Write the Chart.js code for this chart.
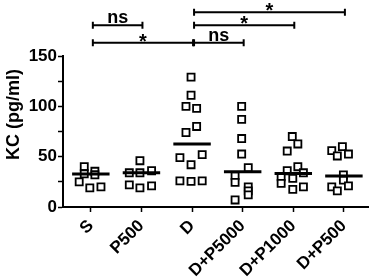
<!DOCTYPE html>
<html>
<head>
<meta charset="utf-8">
<script src="https://cdn.jsdelivr.net/npm/chart.js@4/dist/chart.umd.min.js"></script>
<style>
  html, body { margin: 0; padding: 0; background: #fff; }
  #wrap { width: 375px; height: 279px; }
</style>
</head>
<body>
<div id="wrap"><canvas id="chart"></canvas></div>
<script>
// categorias del eje x
const categories = ['S', 'P500', 'D', 'D+P5000', 'D+P1000', 'D+P500'];

// valores KC (pg/ml) por grupo, y su desplazamiento horizontal (dispersion)
const kcS = [40, 33, 25, 35.5, 32, 19, 20];
const posS = [-0.13, -0.13, -0.23, 0.08, 0.08, -0.02, 0.2];
const kcP500 = [46, 34, 34, 36, 22, 19, 21];
const posP500 = [-0.03, -0.24, -0.03, 0.2, -0.24, -0.03, 0.2];
const kcD = [129, 111, 100, 98, 74, 80, 49, 52, 42, 26, 25.5, 26];
const posD = [-0.02, -0.02, -0.12, 0.09, -0.12, 0.09, -0.24, 0.2, -0.02, -0.24, -0.02, 0.2];
const kcDP5000 = [100, 87, 68, 52.6, 39, 31, 24.5, 20, 16, 12, 7];
const posDP5000 = [-0.02, -0.02, -0.02, -0.02, 0.11, -0.15, -0.15, 0.11, 0.11, 0.11, -0.15];
const kcDP1000 = [70, 62.6, 55.6, 36, 40, 34, 30, 28.5, 23.5, 20, 17.5];
const posDP1000 = [-0.02, 0.09, -0.12, -0.12, 0.09, 0.2, -0.24, -0.01, -0.24, 0.2, -0.01];
const kcDP500 = [56, 60, 50.7, 52.6, 31.8, 26.8, 20, 21, 16];
const posDP500 = [-0.24, -0.03, -0.13, 0.09, -0.01, -0.01, -0.24, 0.09, -0.13];

// linea horizontal de cada grupo
const groupMeans = [32.8, 34, 62.6, 35, 33.4, 30.8];

// ticks del eje y
const yTicks = [0, 25, 50, 75, 100, 125, 150];
const yTitle = 'KC (pg/ml)';

// comparaciones: desde, hasta, etiqueta, fila (0 = la mas alta)
const brackets = [
    { from: 2, to: 5, label: '*', row: 0 },
    { from: 2, to: 4, label: '*', row: 1 },
    { from: 0, to: 1, label: 'ns', row: 1 },
    { from: 0, to: 2, label: '*', row: 2 },
    { from: 2, to: 3, label: 'ns', row: 2 }
];

const groups = [
    [kcS, posS], [kcP500, posP500], [kcD, posD],
    [kcDP5000, posDP5000], [kcDP1000, posDP1000], [kcDP500, posDP500]
];

Chart.defaults.font.family = '"Liberation Sans", Arial, sans-serif';
Chart.defaults.font.weight = 'bold';
Chart.defaults.color = '#000';

const datasets = [];
// lineas primero para que queden encima
groupMeans.forEach((m, i) => {
    datasets.push({
        type: 'line',
        data: [{ x: i - 0.37, y: m }, { x: i + 0.37, y: m }],
        borderColor: '#000',
        borderWidth: 3,
        pointRadius: 0,
        clip: false
    });
});
groups.forEach(([vals, pos], i) => {
    datasets.push({
        type: 'scatter',
        data: vals.map((v, k) => ({ x: i + pos[k], y: v })),
        pointStyle: 'rect',
        pointRadius: 5,
        backgroundColor: '#fff',
        borderColor: '#000',
        borderWidth: 1.8,
        clip: false
    });
});

// barras de significancia arriba del grafico + titulo del eje y
const rowOffsets = [43.7, 30.7, 13.3]; // px sobre chartArea.top
const sigBrackets = {
    id: 'sigBrackets',
    afterDraw(chart) {
        const { ctx, chartArea: { top, bottom }, scales: { x, y } } = chart;
        ctx.save();
        ctx.strokeStyle = '#000';
        ctx.fillStyle = '#000';
        ctx.lineWidth = 2;
        ctx.textAlign = 'center';
        brackets.forEach(b => {
            const x1 = x.getPixelForValue(b.from) + 2;
            const x2 = x.getPixelForValue(b.to) + 1;
            const yy = top - rowOffsets[b.row];
            ctx.beginPath();
            ctx.moveTo(x1, yy); ctx.lineTo(x2, yy);
            ctx.moveTo(x1, yy - 3.5); ctx.lineTo(x1, yy + 3.5);
            ctx.moveTo(x2, yy - 3.5); ctx.lineTo(x2, yy + 3.5);
            ctx.stroke();
            const cx = (x1 + x2) / 2;
            ctx.textBaseline = 'alphabetic';
            if (b.label === '*') {
                ctx.font = 'bold 20px "Liberation Sans", Arial';
                ctx.fillText('*', cx, yy + 5);
            } else {
                ctx.font = 'bold 18px "Liberation Sans", Arial';
                ctx.fillText(b.label, cx, yy - 2);
            }
        });
        // titulo eje y (un poco arriba del centro, como el original)
        ctx.translate(14, y.getPixelForValue(92));
        ctx.rotate(-Math.PI / 2);
        ctx.font = 'bold 18px "Liberation Sans", Arial';
        ctx.textBaseline = 'middle';
        ctx.fillText(yTitle, 0, 0);
        ctx.restore();
    }
};

const config = {
    data: { datasets },
    options: {
        responsive: true,
        maintainAspectRatio: false,
        animation: false,
        layout: { padding: { top: 56, right: 5, left: 0, bottom: 0 } },
        plugins: { legend: { display: false }, tooltip: { enabled: false } },
        scales: {
            x: {
                type: 'linear',
                min: -0.55,
                max: 5.48,
                afterBuildTicks(scale) {
                    scale.ticks = categories.map((c, i) => ({ value: i }));
                },
                afterFit(scale) { scale.height = 72; },
                ticks: {
                    autoSkip: false,
                    minRotation: 45,
                    maxRotation: 45,
                    padding: 4,
                    font: { size: 17, weight: 'bold' },
                    callback: v => categories[v]
                },
                grid: { drawOnChartArea: false, drawTicks: true, tickLength: 5, tickWidth: 1.5, color: '#000' },
                border: { display: true, color: '#000', width: 2 }
            },
            y: {
                min: 0,
                max: 150,
                afterBuildTicks(scale) {
                    scale.ticks = yTicks.map(v => ({ value: v }));
                },
                afterFit(scale) { scale.width = 63; },
                ticks: {
                    padding: 1,
                    font: { size: 17, weight: 'bold' },
                    callback: v => (v % 50 === 0 ? v : '')
                },
                grid: { drawOnChartArea: false, drawTicks: true, tickLength: 5, tickWidth: 1.5, color: '#000' },
                border: { display: true, color: '#000', width: 2 }
            }
        }
    },
    plugins: [sigBrackets]
};

const myChart = new Chart(document.getElementById('chart'), config);
</script>
</body>
</html>
